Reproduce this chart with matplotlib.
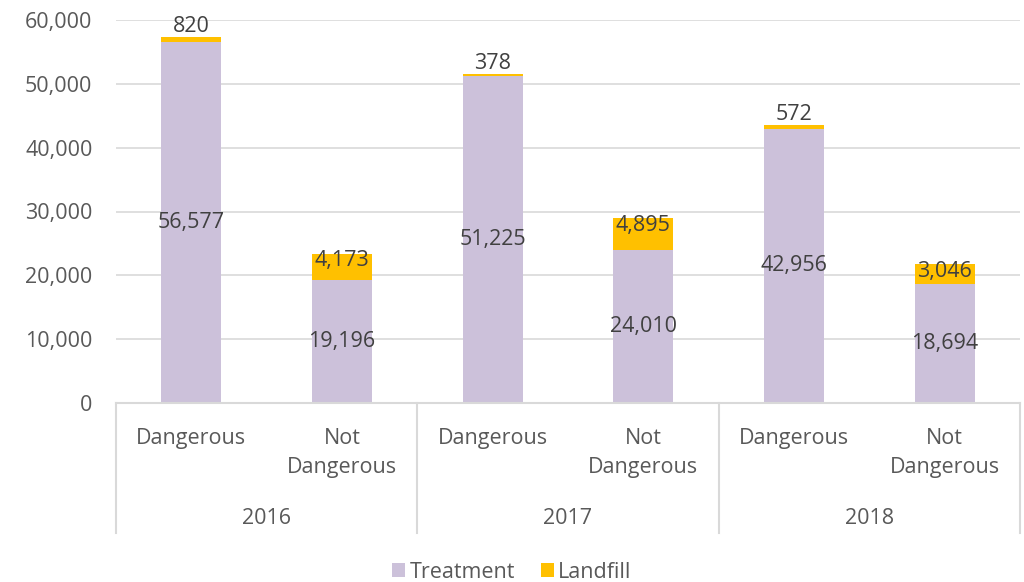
import matplotlib.pyplot as plt
from matplotlib.ticker import FuncFormatter, MultipleLocator

plt.rcParams['font.family'] = ['Open Sans', 'DejaVu Sans']

years = ['2016', '2017', '2018']
waste_types = ['Dangerous', 'Not\nDangerous']
treatment = [56577, 19196, 51225, 24010, 42956, 18694]
landfill = [820, 4173, 378, 4895, 572, 3046]

purple = '#CCC1DA'
gold = '#FFC000'
grid_col = '#D9D9D9'
text_col = '#595959'
label_col = '#404040'
fs = 15.5

fig = plt.figure(figsize=(10.24, 5.82), dpi=100)
ax = fig.add_axes([116 / 1024, 1 - 403 / 582, 904 / 1024, 383 / 582])

x = list(range(len(treatment)))
ax.bar(x, treatment, width=0.4, color=purple, label='Treatment', zorder=2)
ax.bar(x, landfill, width=0.4, bottom=treatment, color=gold, label='Landfill', zorder=2)

# value labels
for xi, t, l in zip(x, treatment, landfill):
    ax.text(xi, t / 2, f'{t:,}', ha='center', va='center', fontsize=fs, color=label_col)
    top = t + l
    if l < 2000:
        ax.annotate(f'{l:,}', (xi, top), xytext=(0, 0), textcoords='offset points',
                    ha='center', va='bottom', fontsize=fs, color=label_col)
    else:
        ax.annotate(f'{l:,}', (xi, top), xytext=(0, -5), textcoords='offset points',
                    ha='center', va='center', fontsize=fs, color=label_col)

ax.set_xlim(-0.5, len(x) - 0.5)
ax.set_ylim(0, 60000)
ax.yaxis.set_major_locator(MultipleLocator(10000))
ax.yaxis.set_major_formatter(FuncFormatter(lambda v, p: f'{int(v):,}'))
ax.tick_params(axis='y', length=0, labelsize=fs, labelcolor=text_col, pad=17)
ax.set_xticks([])
ax.grid(axis='y', color=grid_col, linewidth=1.2, zorder=0)
for s in ax.spines.values():
    s.set_visible(False)

# two-level category axis
h = 383.0
ax.plot([0, 1], [0, 0], transform=ax.transAxes, color=grid_col, lw=1.5, clip_on=False, zorder=3)
for bx in [0, 1 / 3, 2 / 3, 1]:
    ax.plot([bx, bx], [0, -130 / h], transform=ax.transAxes, color=grid_col, lw=1.5, clip_on=False)
for i, xi in enumerate(x):
    ax.text(xi, -25 / h * 60000, waste_types[i % 2], ha='center', va='top',
            fontsize=fs, color=text_col, linespacing=1.5)
for j, yr in enumerate(years):
    ax.text((j + 0.5) / 3, -115 / h, yr, transform=ax.transAxes, ha='center', va='center',
            fontsize=fs, color=text_col)

ax.legend(loc='center', bbox_to_anchor=(0.5, 10 / 582), bbox_transform=fig.transFigure,
          ncol=2, frameon=False, fontsize=fs, handlelength=0.6, handleheight=0.6,
          handletextpad=0.2, columnspacing=1.2, labelcolor=text_col)

fig.savefig('out.png', dpi=100)
